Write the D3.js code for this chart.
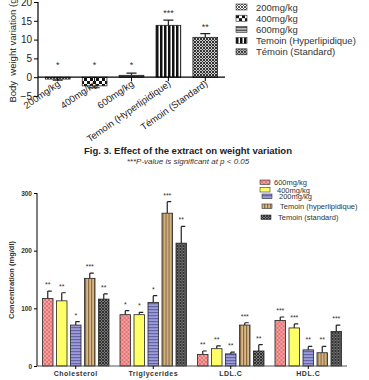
<!DOCTYPE html>
<html>
<head>
<meta charset="utf-8">
<script src="https://cdn.jsdelivr.net/npm/d3@7"></script>
<style>
  body { margin: 0; background: #fff; }
  svg { font-family: "Liberation Sans", Arial, sans-serif; }
</style>
</head>
<body>
<div id="chart"></div>
<script>
// ---- top chart data (weight variation, g)
var weightCats = ["200mg/kg", "400mg/kg", "600mg/kg", "Temoin (Hyperlipidique)", "Témoin (Standard)"];
var weightVals = [-0.5, -2.3, 0.5, 13.8, 10.6];
var weightErr = [0.3, 0.5, 0.6, 1.4, 1.0];
var weightStars = ["*", "*", "*", "***", "**"];
var weightTicks = [-5, 0, 5, 10, 15, 20];

// ---- bottom chart data (lipid profile, mg/dl)
var lipidGroups = ["Cholesterol", "Triglycerides", "LDL.C", "HDL.C"];
var lipidSeries = ["600mg/kg", "400mg/kg", "200mg/kg", "Temoin (hyperlipidique)", "Temoin (standard)"];
var lipidVals = [
  [117, 113, 71, 152, 116],
  [89, 89, 110, 265, 213],
  [20, 30, 21, 71, 26],
  [79, 66, 28, 23, 60]
];
var lipidErr = [
  [13, 14, 6, 9, 9],
  [7, 4, 12, 20, 29],
  [6, 5, 3, 4, 11],
  [6, 7, 6, 11, 11]
];
var lipidStars = [
  ["**", "**", "*", "***", "**"],
  ["*", "*", "*", "***", "**"],
  ["**", "**", "**", "***", "**"],
  ["***", "***", "**", "**", "***"]
];
var lipidTicks = [0, 100, 200, 300];

var svg = d3.select("#chart").append("svg").attr("width", 369).attr("height", 380);
var defs = svg.append("defs");

// hatch patterns
function pat(id, size, bg, draw) {
  var p = defs.append("pattern").attr("id", id).attr("patternUnits", "userSpaceOnUse")
    .attr("width", size).attr("height", size);
  p.append("rect").attr("width", size).attr("height", size).attr("fill", bg);
  draw(p);
}
pat("pFine", 3, "#fff", function (p) {
  p.append("path").attr("d", "M0,0L3,3M3,0L0,3").attr("stroke", "#555").attr("stroke-width", 1);
});
pat("pCheck", 6, "#fff", function (p) {
  p.append("rect").attr("width", 3).attr("height", 3).attr("fill", "#111");
  p.append("rect").attr("x", 3).attr("y", 3).attr("width", 3).attr("height", 3).attr("fill", "#111");
});
pat("pHoriz", 3, "#fff", function (p) {
  p.append("rect").attr("width", 3).attr("height", 2).attr("fill", "#555");
});
pat("pVert", 4, "#fff", function (p) {
  p.append("rect").attr("width", 2.5).attr("height", 4).attr("fill", "#111");
});
pat("pFine2", 3, "#ccc", function (p) {
  p.append("path").attr("d", "M0,0L3,3M3,0L0,3").attr("stroke", "#333").attr("stroke-width", 1);
});
pat("lPink", 4, "#f4a0a0", function (p) {
  p.append("path").attr("d", "M0,0L4,4M4,0L0,4").attr("stroke", "#e06a6a").attr("stroke-width", 0.8);
});
pat("lYellow", 4, "#ffff66", function (p) {});
pat("lPurple", 3, "#9c9cd8", function (p) {
  p.append("rect").attr("width", 3).attr("height", 1.2).attr("fill", "#6464a8");
});
pat("lTan", 3, "#d8b888", function (p) {
  p.append("rect").attr("width", 1.2).attr("height", 3).attr("fill", "#8a6a40");
});
pat("lGray", 3, "#777", function (p) {
  p.append("path").attr("d", "M0,0L3,3M3,0L0,3").attr("stroke", "#333").attr("stroke-width", 1);
});
var topFills = ["url(#pFine)", "url(#pCheck)", "url(#pHoriz)", "url(#pVert)", "url(#pFine2)"];
var lipidFills = ["url(#lPink)", "url(#lYellow)", "url(#lPurple)", "url(#lTan)", "url(#lGray)"];

// ================= top chart =================
var yT = d3.scaleLinear().domain([-5, 20]).range([96, 2]);
var xT = d3.scaleBand().domain(weightCats).range([38, 225]).paddingInner(0.33).paddingOuter(0.2);
var gT = svg.append("g");

gT.append("g").attr("transform", "translate(38,0)")
  .call(d3.axisLeft(yT).tickValues(weightTicks).tickSize(4).tickPadding(2))
  .call(function (g) {
    g.select(".domain").attr("d", "M0," + yT(-5) + "V" + yT(20)).attr("stroke-width", 1.2);
    g.selectAll("text").attr("font-size", 10).attr("fill", "#222").attr("font-family", "Liberation Sans, Arial");
  });

gT.selectAll(".barT").data(weightVals).enter().append("rect")
  .attr("x", function (d, i) { return xT(weightCats[i]); })
  .attr("width", xT.bandwidth())
  .attr("y", function (d) { return yT(Math.max(0, d)); })
  .attr("height", function (d) { return Math.abs(yT(d) - yT(0)); })
  .attr("fill", function (d, i) { return topFills[i]; })
  .attr("stroke", "#222").attr("stroke-width", 0.8);

gT.selectAll(".errT").data(weightVals).enter().append("path")
  .attr("d", function (d, i) {
    var cx = xT(weightCats[i]) + xT.bandwidth() / 2;
    var e = d < 0 ? d - weightErr[i] : d + weightErr[i];
    return "M" + cx + "," + yT(d) + "V" + yT(e) + "M" + (cx - 5) + "," + yT(e) + "H" + (cx + 5);
  })
  .attr("stroke", "#222").attr("stroke-width", 1.2).attr("fill", "none");

gT.selectAll(".starT").data(weightStars).enter().append("text")
  .attr("x", function (d, i) { return xT(weightCats[i]) + xT.bandwidth() / 2; })
  .attr("y", function (d, i) {
    var v = weightVals[i];
    return v < 2 ? 68 : yT(v + weightErr[i]) - 4;
  })
  .attr("text-anchor", "middle").attr("font-size", 9).attr("fill", "#333").text(function (d) { return d; });

// zero axis with ticks
var xAxisT = gT.append("g").attr("transform", "translate(0," + yT(0) + ")")
  .call(d3.axisBottom(xT).tickSize(4).tickFormat(""));
xAxisT.select(".domain").attr("d", "M38,0H225").attr("stroke-width", 1.2);

gT.selectAll(".catT").data(weightCats).enter().append("text")
  .attr("transform", function (d) {
    return "translate(" + (xT(d) + xT.bandwidth() / 2 + 3) + "," + (yT(0) + 8) + ") rotate(-35)";
  })
  .attr("text-anchor", "end").attr("font-size", 9.5).attr("fill", "#222").text(function (d) { return d; });

gT.append("text").attr("transform", "translate(16,49) rotate(-90)")
  .attr("text-anchor", "middle").attr("font-size", 9.5).attr("fill", "#222")
  .attr("xml:space", "preserve").text("Body  weight variation (g)");

// top legend
var legT = gT.selectAll(".legT").data(weightCats).enter().append("g")
  .attr("transform", function (d, i) { return "translate(236," + (4 + i * 11.2) + ")"; });
legT.append("rect").attr("width", 11).attr("height", 6)
  .attr("fill", function (d, i) { return topFills[i]; }).attr("stroke", "#333").attr("stroke-width", 0.6);
legT.append("text").attr("x", 20).attr("y", 6.5).attr("font-size", 9.5).attr("fill", "#333")
  .text(function (d) { return d; });

// caption
svg.append("text").attr("x", 188).attr("y", 154).attr("text-anchor", "middle")
  .attr("font-size", 9.5).attr("font-weight", "bold").attr("fill", "#222")
  .text("Fig. 3. Effect of the extract on weight variation");
svg.append("text").attr("x", 188).attr("y", 164).attr("text-anchor", "middle")
  .attr("font-size", 8).attr("font-style", "italic").attr("fill", "#333")
  .text("***P-value is significant at p < 0.05");

// ================= bottom chart =================
var yB = d3.scaleLinear().domain([0, 300]).range([366, 193]);
var x0 = d3.scaleBand().domain(lipidGroups).range([37, 347]);
var x1 = d3.scaleBand().domain(lipidSeries).range([5.5, 72]).paddingInner(0.25);
var gB = svg.append("g");

gB.append("g").attr("transform", "translate(37,0)")
  .call(d3.axisLeft(yB).tickValues(lipidTicks).tickSize(3).tickPadding(2))
  .call(function (g) {
    g.select(".domain").attr("d", "M0," + yB(0) + "V" + yB(300)).attr("stroke-width", 1);
    g.selectAll("text").attr("font-size", 6.5).attr("font-weight", "bold").attr("fill", "#333")
      .attr("font-family", "Liberation Sans, Arial");
  });

var grp = gB.selectAll(".grp").data(lipidGroups).enter().append("g")
  .attr("transform", function (d) { return "translate(" + x0(d) + ",0)"; });

grp.each(function (g, gi) {
  var sel = d3.select(this);
  lipidSeries.forEach(function (s, si) {
    var v = lipidVals[gi][si], e = v + lipidErr[gi][si];
    var bx = x1(s), cx = bx + x1.bandwidth() / 2;
    sel.append("path")
      .attr("d", "M" + cx + "," + yB(v) + "V" + yB(e) + "M" + cx + "," + yB(e) + "H" + (cx + 4))
      .attr("stroke", "#222").attr("stroke-width", 1.2).attr("fill", "none");
    sel.append("rect").attr("x", bx).attr("width", x1.bandwidth())
      .attr("y", yB(v)).attr("height", yB(0) - yB(v))
      .attr("fill", lipidFills[si]).attr("stroke", "#222").attr("stroke-width", 0.8);
    sel.append("text").attr("x", cx).attr("y", yB(e) - 4).attr("text-anchor", "middle")
      .attr("font-size", 7).attr("fill", "#333").text(lipidStars[gi][si]);
  });
});

var xAxisB = gB.append("g").attr("transform", "translate(0," + yB(0) + ")")
  .call(d3.axisBottom(x0).tickSize(3).tickPadding(2))
  .call(function (g) {
    g.select(".domain").attr("d", "M37,0H347").attr("stroke", "#555").attr("stroke-width", 1.2);
    g.selectAll("text").attr("font-size", 7).attr("font-weight", "bold").attr("fill", "#333")
      .attr("font-family", "Liberation Sans, Arial").attr("letter-spacing", 0.5);
  });

gB.append("text").attr("transform", "translate(14,280) rotate(-90)")
  .attr("text-anchor", "middle").attr("font-size", 7.5).attr("font-weight", "bold").attr("fill", "#333")
  .text("Concentration (mg/dl)");

// bottom legend
var legPos = [[260, 180, 274], [260, 187.5, 277], [262, 194, 279], [262, 204, 280], [261, 215, 278]];
var legB = gB.selectAll(".legB").data(lipidSeries).enter().append("g");
legB.append("rect")
  .attr("x", function (d, i) { return legPos[i][0]; })
  .attr("y", function (d, i) { return legPos[i][1]; })
  .attr("width", 10).attr("height", 4.5)
  .attr("fill", function (d, i) { return lipidFills[i]; }).attr("stroke", "#333").attr("stroke-width", 0.6);
legB.append("text")
  .attr("x", function (d, i) { return legPos[i][2]; })
  .attr("y", function (d, i) { return legPos[i][1] + 5; })
  .attr("font-size", 7.5).attr("fill", "#333").text(function (d) { return d; });
</script>
</body>
</html>
